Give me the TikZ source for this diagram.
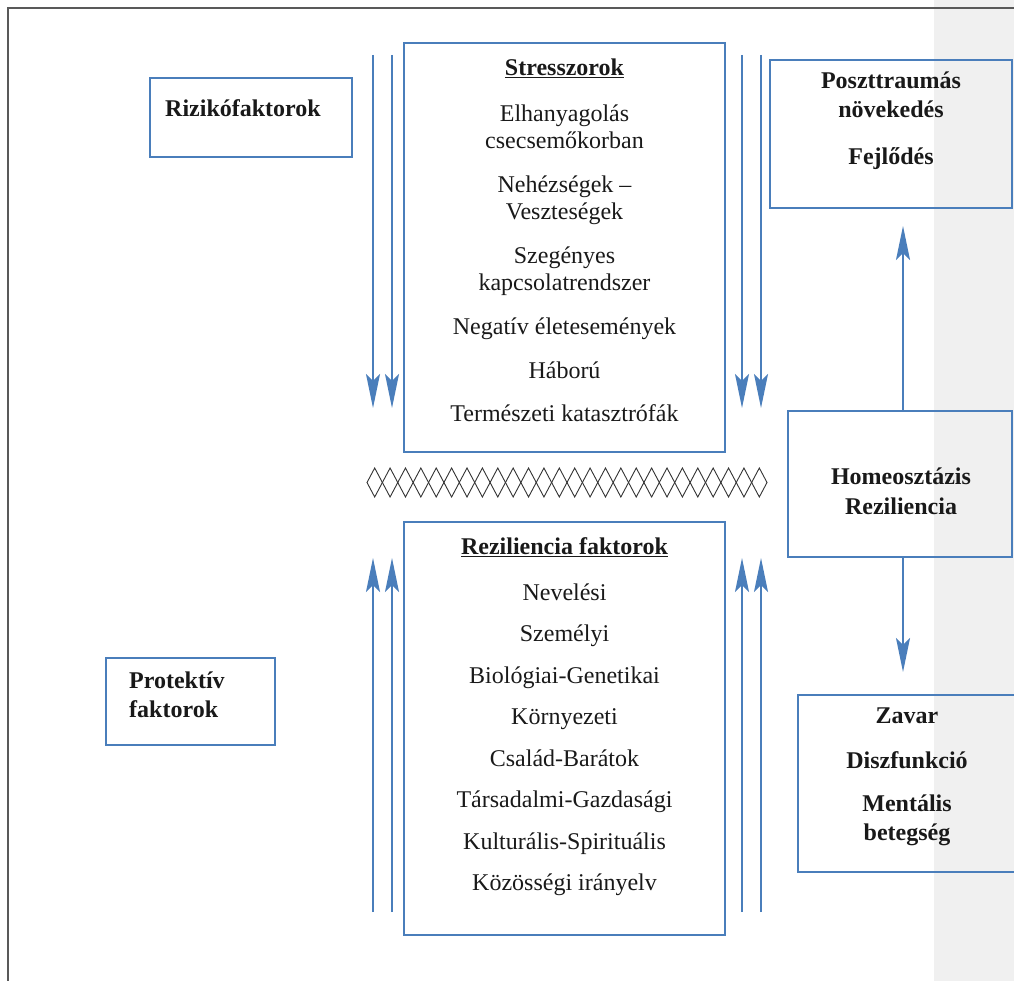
\documentclass[tikz,border=0pt]{standalone}
\usepackage{fontspec}
\setmainfont{Liberation Serif}
\usepackage{tikz}
\usetikzlibrary{arrows.meta,positioning}
\definecolor{boxblue}{HTML}{4A7EBB}
\definecolor{sidegrey}{HTML}{F0F0F0}

\begin{document}
\begin{tikzpicture}[x=1pt, y=-1pt,
    box_style/.style={draw=boxblue, line width=2pt, inner sep=0pt},
    list_style/.style={align=center, inner sep=0pt, text=black!90, font=\fontsize{24}{27}\selectfont},
    bold_style/.style={inner sep=0pt, text=black!90, font=\fontsize{24}{29}\selectfont\bfseries},
    arrow_style/.style={draw=boxblue, line width=2pt, -{Stealth[length=34pt,width=14pt,inset=7pt]}}]

	\useasboundingbox (0,0) rectangle (1014,981);
	\fill[sidegrey] (934,0) rectangle (1014,981);
	\draw[black!65, line width=1.5pt] (8,981) -- (8,8) -- (1014,8);

	% boxes
	\node[box_style, minimum width=202pt, minimum height=79pt] (rizik) at (251,117.5) {};
	\node[box_style, minimum width=169pt, minimum height=87pt] (protekt) at (190.5,701.5) {};
	\node[box_style, minimum width=321pt, minimum height=409pt] (stress) at (564.5,247.5) {};
	\node[box_style, minimum width=321pt, minimum height=413pt] (rezil) at (564.5,728.5) {};
	\node[box_style, minimum width=242pt, minimum height=148pt] (poszt) at (891,134) {};
	\node[box_style, minimum width=224pt, minimum height=146pt] (homeo) at (900,484) {};
	\node[box_style, minimum width=217pt, minimum height=177pt] (zavar) at (906.5,783.5) {};

	% texts
	\node[bold_style, anchor=base west] (riziktxt) at (165,117) {Rizikófaktorok};
	\node[bold_style, align=left, anchor=north west] (protekttxt) at (129,672) {Protektív\\ faktorok};
	\node[list_style, below=17pt of stress.north] (stresstxt) {\underline{\textbf{Stresszorok}}\\[19pt]
		Elhanyagolás\\ csecsemőkorban\\[17pt]
		Nehézségek –\\ Veszteségek\\[17pt]
		Szegényes\\ kapcsolatrendszer\\[17pt]
		Negatív életesemények\\[17pt]
		Háború\\[16pt]
		Természeti katasztrófák};
	\node[list_style, below=16pt of rezil.north] (reziltxt) {\underline{\textbf{Reziliencia faktorok}}\\[19pt]
		Nevelési\\[14.5pt] Személyi\\[14.5pt] Biológiai-Genetikai\\[14.5pt] Környezeti\\[14.5pt]
		Család-Barátok\\[14.5pt] Társadalmi-Gazdasági\\[14.5pt] Kulturális-Spirituális\\[14.5pt]
		Közösségi irányelv};
	\node[bold_style, align=center, anchor=north] (poszttxt) at (891,72) {Poszttraumás\\ növekedés\\[18pt] Fejlődés};
	\node[bold_style, align=center, anchor=north] (homeotxt) at (901,468) {Homeosztázis\\[1pt] Reziliencia};
	\node[bold_style, align=center, anchor=north] (zavartxt) at (907,708) {Zavar\\[16pt] Diszfunkció\\[14pt] Mentális\\ betegség};

	% parallel arrows
	\foreach \x [count=\i] in {373,392,742,761}{
		\coordinate (dtop\i) at (\x,55);
		\coordinate (dbot\i) at (\x,408);
		\draw[arrow_style] (dtop\i) -- (dbot\i);
		\coordinate (ubot\i) at (\x,912);
		\coordinate (utop\i) at (\x,558);
		\draw[arrow_style] (ubot\i) -- (utop\i);
	}

	% diamond chain
	\foreach \i in {0,...,25}{
		\pgfmathsetmacro{\xa}{367+\i*15.385}
		\draw[black!80, line width=0.9pt] (\xa,482.5) -- ++(7.69,-14.5) -- ++(7.69,14.5) -- ++(-7.69,14.5) -- cycle;
	}

	\draw[arrow_style, shorten >=17pt] ([xshift=3pt]homeo.north) -- ([xshift=3pt]homeo.north |- poszt.south);
	\draw[arrow_style, shorten >=22pt] ([xshift=3pt]homeo.south) -- ([xshift=3pt]homeo.south |- zavar.north);
\end{tikzpicture}
\end{document}
